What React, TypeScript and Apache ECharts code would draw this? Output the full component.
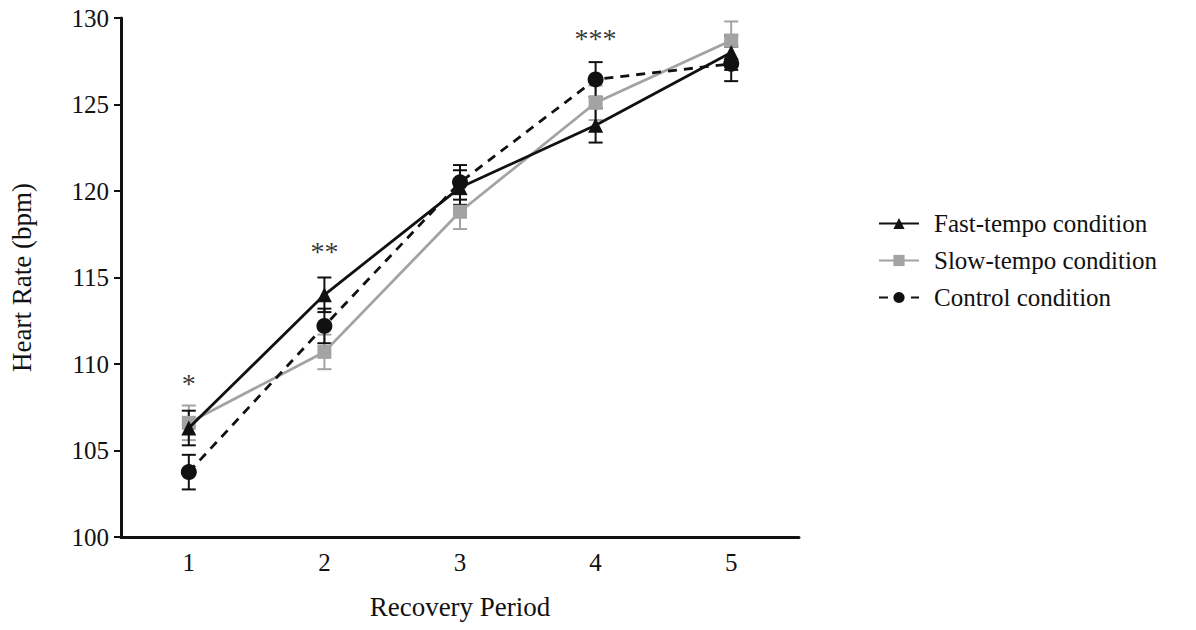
import React, { useEffect, useRef } from "react";
import * as echarts from "echarts";

const periods = ["1", "2", "3", "4", "5"];
const fastMean = [106.3, 114.0, 120.2, 123.8, 128.0];
const fastErr = [1.0, 1.0, 1.0, 1.0, 1.0];
const slowMean = [106.6, 110.7, 118.8, 125.1, 128.7];
const slowErr = [1.0, 1.0, 1.0, 1.0, 1.1];
const ctrlMean = [103.75, 112.2, 120.5, 126.45, 127.35];
const ctrlErr = [1.0, 1.0, 1.0, 1.0, 1.0];
const sigIdx = [0, 1, 3];
const sigY = [108.9, 116.5, 128.8];
const sigText = ["*", "**", "***"];

const FONT = "'Liberation Serif', 'Times New Roman', serif";

function errSeries(mean: number[], err: number[], color: string, z: number) {
  return {
    type: "custom",
    z,
    silent: true,
    data: mean.map((m, i) => [i, m - err[i], m + err[i]]),
    renderItem: (params: any, api: any) => {
      const x = api.value(0);
      const lo = api.coord([x, api.value(1)]);
      const hi = api.coord([x, api.value(2)]);
      const w = 7;
      const style = { stroke: color, lineWidth: 2 };
      return {
        type: "group",
        children: [
          { type: "line", shape: { x1: lo[0], y1: lo[1], x2: hi[0], y2: hi[1] }, style },
          { type: "line", shape: { x1: lo[0] - w, y1: lo[1], x2: lo[0] + w, y2: lo[1] }, style },
          { type: "line", shape: { x1: hi[0] - w, y1: hi[1], x2: hi[0] + w, y2: hi[1] }, style },
        ],
      };
    },
  };
}

export default function App() {
  const ref = useRef<HTMLDivElement>(null);
  useEffect(() => {
    if (!ref.current) return;
    const chart = echarts.init(ref.current, undefined, { renderer: "svg" });
    const black = "#111111";
    const gray = "#a3a3a3";
    chart.setOption({
      animation: false,
      textStyle: { fontFamily: FONT },
      grid: { left: 118, right: 397, top: 18, bottom: 93, containLabel: false },
      legend: {
        orient: "vertical",
        left: 873,
        top: 206,
        itemGap: 12,
        itemWidth: 40,
        itemHeight: 14,
        textStyle: { fontFamily: FONT, fontSize: 25, color: "#111", padding: [0, 0, 0, 10] },
        data: ["Fast-tempo condition", "Slow-tempo condition", "Control condition"],
      },
      xAxis: {
        type: "category",
        data: periods,
        boundaryGap: true,
        name: "Recovery Period",
        nameLocation: "middle",
        nameGap: 56,
        nameTextStyle: { fontFamily: FONT, fontSize: 27, color: "#111" },
        axisLine: { lineStyle: { color: black, width: 3 } },
        axisTick: { alignWithLabel: true, length: 7, lineStyle: { width: 2, color: black } },
        axisLabel: { fontFamily: FONT, fontSize: 25, color: "#111", margin: 13 },
      },
      yAxis: {
        type: "value",
        min: 100,
        max: 130,
        interval: 5,
        name: "Heart Rate (bpm)",
        nameLocation: "middle",
        nameGap: 86,
        nameTextStyle: { fontFamily: FONT, fontSize: 27, color: "#111" },
        axisLine: { show: true, lineStyle: { color: black, width: 3 } },
        axisTick: { show: true, length: 7, lineStyle: { width: 2, color: black } },
        axisLabel: { fontFamily: FONT, fontSize: 25, color: "#111", margin: 12 },
        splitLine: { show: false },
      },
      series: [
        errSeries(slowMean, slowErr, gray, 2),
        errSeries(fastMean, fastErr, black, 3),
        errSeries(ctrlMean, ctrlErr, black, 4),
        {
          name: "Slow-tempo condition",
          type: "line",
          data: slowMean,
          z: 5,
          symbol: "rect",
          symbolSize: 14,
          itemStyle: { color: gray },
          lineStyle: { color: gray, width: 2.8 },
        },
        {
          name: "Fast-tempo condition",
          type: "line",
          data: fastMean,
          z: 6,
          symbol: "triangle",
          symbolSize: 15,
          itemStyle: { color: black },
          lineStyle: { color: black, width: 2.8 },
        },
        {
          name: "Control condition",
          type: "line",
          data: ctrlMean,
          z: 7,
          symbol: "circle",
          symbolSize: 16,
          itemStyle: { color: black },
          lineStyle: { color: black, width: 2.8, type: [9, 7] },
        },
        {
          type: "scatter",
          silent: true,
          symbolSize: 0,
          data: sigIdx.map((i, k) => ({ value: [i, sigY[k]], label: { formatter: sigText[k] } })),
          label: {
            show: true,
            position: "inside",
            fontFamily: FONT,
            fontSize: 28,
            color: "#000",
          },
        },
      ],
    });
    return () => chart.dispose();
  }, []);
  return <div ref={ref} style={{ width: 1196, height: 630, position: "absolute", left: 0, top: 0 }} />;
}
